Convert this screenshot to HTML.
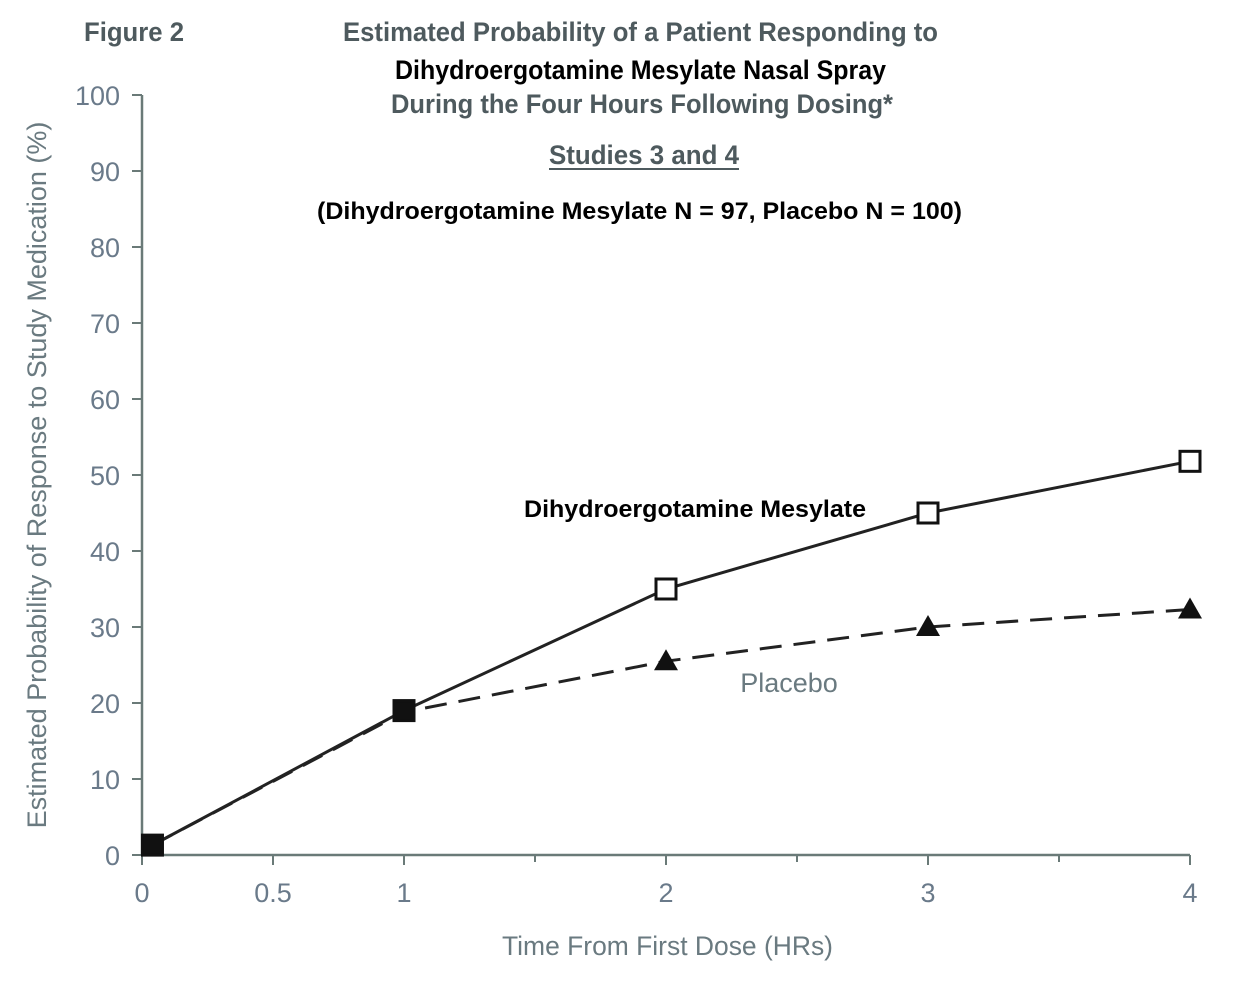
<!DOCTYPE html>
<html><head><meta charset="utf-8"><style>
body{margin:0;background:#fff;}
svg{display:block;}
.t{font-family:"Liberation Sans Narrow","Liberation Sans",sans-serif;}
</style></head><body>
<svg id="chart" width="1240" height="984" xmlns="http://www.w3.org/2000/svg">
<g>
<text class="t" x="84" y="41" font-size="27" font-weight="bold" fill="#4e5a5e" textLength="100" lengthAdjust="spacingAndGlyphs">Figure 2</text>
<text class="t" x="343" y="41" font-size="27" font-weight="bold" fill="#4e5a5e" textLength="595" lengthAdjust="spacingAndGlyphs">Estimated Probability of a Patient Responding to</text>
<text class="t" x="395" y="79" font-size="27" font-weight="bold" fill="#000" textLength="491" lengthAdjust="spacingAndGlyphs">Dihydroergotamine Mesylate Nasal Spray</text>
<text class="t" x="391" y="113" font-size="27" font-weight="bold" fill="#4e5a5e" textLength="502" lengthAdjust="spacingAndGlyphs">During the Four Hours Following Dosing*</text>
<text class="t" x="549" y="164" font-size="27" font-weight="bold" fill="#4e5a5e" textLength="190" lengthAdjust="spacingAndGlyphs">Studies 3 and 4</text>
<line x1="549" y1="169" x2="739" y2="169" stroke="#4e5a5e" stroke-width="2"/>
<text x="317" y="219" font-family="Liberation Sans, sans-serif" font-size="24" font-weight="bold" fill="#000" textLength="645" lengthAdjust="spacingAndGlyphs">(Dihydroergotamine Mesylate N = 97, Placebo N = 100)</text>
</g>
<g id="axes"></g>
<g id="series"></g>
<text class="t" transform="translate(46,475) rotate(-90)" text-anchor="middle" font-size="27" fill="#6a7a80">Estimated Probability of Response to Study Medication (%)</text>
<text class="t" x="502" y="955" font-size="27" fill="#6a7a80" textLength="331" lengthAdjust="spacingAndGlyphs">Time From First Dose (HRs)</text>
<text x="524" y="517" font-family="Liberation Sans, sans-serif" font-size="24" font-weight="bold" fill="#000" textLength="342" lengthAdjust="spacingAndGlyphs">Dihydroergotamine Mesylate</text>
<text class="t" x="789" y="692" text-anchor="middle" font-size="27" fill="#6a7a80">Placebo</text>
</svg>
<script>
const yTicks=[0,10,20,30,40,50,60,70,80,90,100];
const xTicks=[0,0.5,1,2,3,4];
const xTickLabels=["0","0.5","1","2","3","4"];
const xMinorTicks=[1.5,2.5,3.5];
const hours=[0.04,1,2,3,4];
const dheValues=[1.3,19,35,45,51.8];
const placeboValues=[1.3,18.8,25.5,30,32.3];
const NS="http://www.w3.org/2000/svg";
const X=v=>142+v*262, Y=v=>855-v*7.6;
function mk(tag,attrs,parent){const e=document.createElementNS(NS,tag);for(const k in attrs)e.setAttribute(k,attrs[k]);parent.appendChild(e);return e;}
const axes=document.getElementById('axes'), ser=document.getElementById('series');
const ac="#6a7a78";
let a=mk('line',{x1:X(0),y1:Y(0),x2:X(0),y2:Y(100),stroke:ac,'stroke-width':2.5},axes);

a=mk('line',{x1:X(0),y1:Y(0),x2:X(4),y2:Y(0),stroke:ac,'stroke-width':2.5},axes);

yTicks.forEach(v=>{const l=mk('line',{x1:X(0)-10,y1:Y(v),x2:X(0),y2:Y(v),stroke:ac,'stroke-width':2},axes);

const t=mk('text',{x:X(0)-22,y:Y(v)+10,'text-anchor':'end','font-size':27,fill:'#6a7a8a','class':'t'},axes);t.textContent=v;
});
xTicks.forEach((v,i)=>{const l=mk('line',{x1:X(v),y1:Y(0),x2:X(v),y2:Y(0)+10,stroke:ac,'stroke-width':2},axes);

const t=mk('text',{x:X(v),y:Y(0)+47,'text-anchor':'middle','font-size':27,fill:'#6a7a8a','class':'t'},axes);t.textContent=xTickLabels[i];
});
xMinorTicks.forEach(v=>{const l=mk('line',{x1:X(v),y1:Y(0),x2:X(v),y2:Y(0)+7,stroke:ac,'stroke-width':2},axes);
});
const pp=placeboValues.map((v,i)=>X(hours[i])+','+Y(v)).join(' ');
let p=mk('polyline',{points:pp,fill:'none',stroke:'#222','stroke-width':3,'stroke-dasharray':'22,12'},ser);

const dp=dheValues.map((v,i)=>X(hours[i])+','+Y(v)).join(' ');
p=mk('polyline',{points:dp,fill:'none',stroke:'#222','stroke-width':3},ser);

placeboValues.forEach((v,i)=>{if(i<2)return;const x=X(hours[i]),y=Y(v);
const m=mk('polygon',{points:`${x-12},${y+9} ${x+12},${y+9} ${x},${y-12}`,fill:'#111'},ser);
});
dheValues.forEach((v,i)=>{const x=X(hours[i]),y=Y(v);const filled=i<2;
const m=mk('rect',{x:x-10,y:y-10,width:20,height:20,fill:filled?'#111':'#fff',stroke:'#111','stroke-width':3},ser);
});
</script>
</body></html>
